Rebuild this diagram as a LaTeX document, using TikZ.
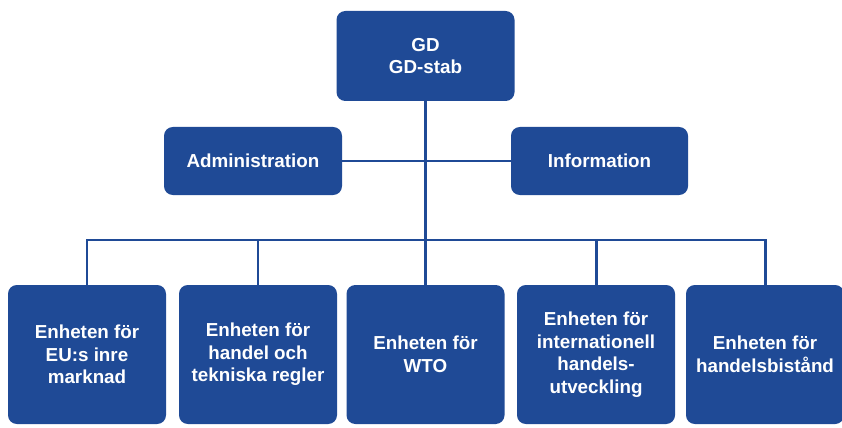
\documentclass[tikz,border=0pt]{standalone}
\usepackage{fontspec}
\setmainfont{Liberation Sans}
\usepackage{tikz}
\usetikzlibrary{positioning,calc}

\definecolor{orgblue}{RGB}{31,74,150}

\begin{document}
\begin{tikzpicture}[
    unit/.style={draw=none,fill=orgblue,rounded corners=5pt,text=white,
      font=\fontsize{10.7}{12.8}\selectfont\bfseries,align=center,inner sep=0pt},
    lower/.style={unit,minimum width=3.16cm,minimum height=2.78cm},
    link/.style={draw=orgblue,line width=1.7pt}
  ]
  \useasboundingbox (0,0) rectangle (16.84,8.54);

  % Top: management
  \node[unit,minimum width=3.56cm,minimum height=1.8cm] (gd) at (8.51,7.42)
    {GD\\GD-stab};

  % Staff functions
  \node[unit,minimum width=3.56cm,minimum height=1.36cm] (adm) at (5.06,5.32)
    {Administration};
  \node[unit,minimum width=3.54cm,minimum height=1.36cm] (info) at (11.99,5.32)
    {Information};

  % Units
  \node[lower] (eu) at (1.74,1.45) {Enheten för\\EU:s inre\\marknad};
  \node[lower] (tek) at (5.16,1.45) {Enheten för\\handel och\\tekniska regler};
  \node[lower] (wto) at (8.51,1.45) {Enheten för\\WTO};
  \node[lower] (int) at (11.92,1.45)
    {Enheten för\\internationell\\handels-\\utveckling};
  \node[lower] (bis) at (15.30,1.45) {Enheten för\\handelsbistånd};

  % Connectors
  \coordinate (bus) at (8.51,3.74);
  \draw[link] (adm.east) -- (info.west);
  \draw[link] (gd.south) -- (wto.north);
  \foreach \u in {eu,tek,int,bis} {
    \draw[link] (bus) -| (\u.north);
  }

\end{tikzpicture}
\end{document}
